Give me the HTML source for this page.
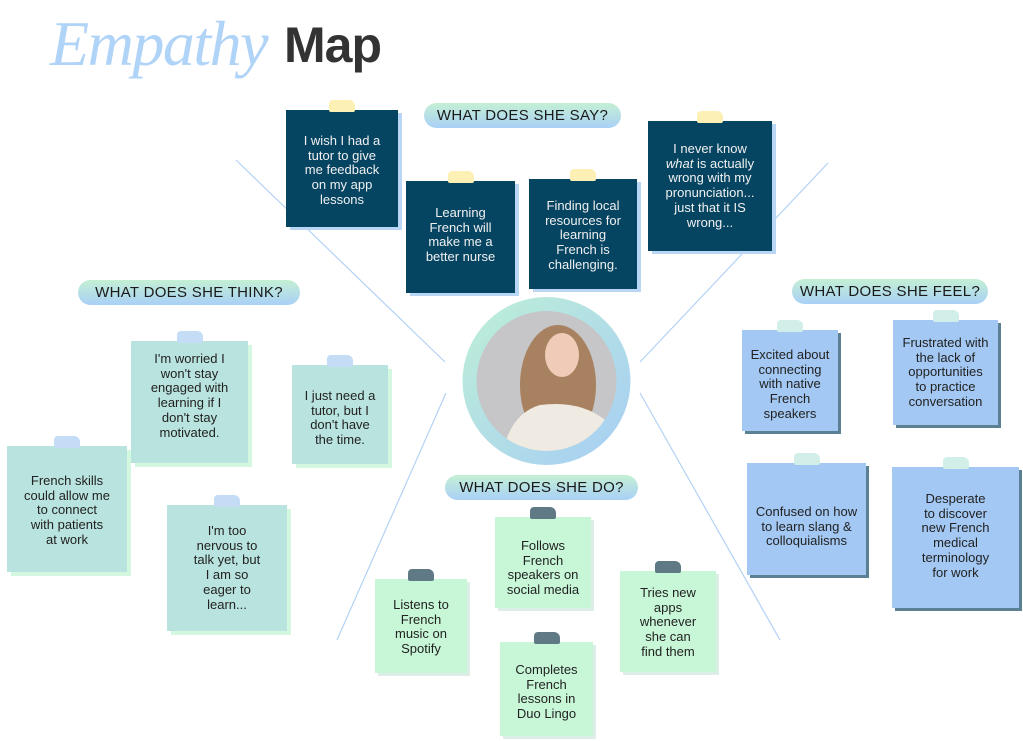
<!DOCTYPE html>
<html><head><meta charset="utf-8"><style>
*{margin:0;padding:0;box-sizing:border-box}
body{width:1023px;height:741px;background:#fff;position:relative;overflow:hidden;font-family:"Liberation Sans",sans-serif}
.t1{position:absolute;left:50px;top:7px;font-family:"Liberation Serif",serif;font-style:italic;font-size:64px;color:#b0d3f8;letter-spacing:-1.5px}
.t2{position:absolute;left:284px;top:16px;font-size:50px;font-weight:bold;color:#333;letter-spacing:-1px}
.lab{position:absolute;height:25px;border-radius:13px;background:linear-gradient(180deg,#c4f0d4,#a9d0f6);font-size:15px;color:#1a1a1a;text-align:center;line-height:25px;letter-spacing:0.3px}
.n{position:absolute;text-align:center;font-size:13px;line-height:14.7px;color:#222}
.d{background:#064562;color:#f0f0f0;box-shadow:4px 3px 0 #b9d6f4}
.th{background:#b9e3de;box-shadow:4px 4px 0 #d4f8df}
.f{background:#a3c8f3;box-shadow:3px 3px 0 #5b7f93}
.g{background:#c8f7d8;box-shadow:3px 3px 0 #dceee6}
.tape{position:absolute;top:-10px;left:50%;margin-left:-13px;width:26px;height:12px;border-radius:4px 6px 2px 2px}
.d .tape{background:#fdf0b4}
.th .tape{background:#c4dcf6}
.f .tape{background:#d2eee8}
.g .tape{background:#607a85}
</style></head><body>
<svg width="1023" height="741" style="position:absolute;left:0;top:0">
<g stroke="#b3d2f5" stroke-width="1.2">
<line x1="236" y1="160" x2="445" y2="362"/>
<line x1="828" y1="163" x2="640" y2="362"/>
<line x1="337" y1="640" x2="446" y2="393"/>
<line x1="780" y1="640" x2="640" y2="393"/>
</g>
<defs>
<linearGradient id="rg" x1="0" y1="0" x2="1" y2="1"><stop offset="0" stop-color="#bdf0d6"/><stop offset="1" stop-color="#a6cdf5"/></linearGradient>
<clipPath id="cp"><circle cx="546.5" cy="381" r="70"/></clipPath>
</defs>
<circle cx="546.5" cy="381" r="84" fill="url(#rg)"/>
<g clip-path="url(#cp)">
<rect x="470" y="305" width="160" height="160" fill="#c6c5c8"/>
<ellipse cx="558" cy="385" rx="38" ry="60" fill="#a88260"/>
<ellipse cx="562" cy="355" rx="17" ry="22" fill="#f0cbb7"/>
<path d="M500 470 Q505 415 540 405 Q580 400 605 420 Q615 440 615 470 Z" fill="#efeae2"/>
</g>
</svg>
<div class="t1">Empathy</div><div class="t2">Map</div>
<div class="lab" style="left:424px;top:103px;width:197px">WHAT DOES SHE SAY?</div>
<div class="lab" style="left:78px;top:280px;width:222px">WHAT DOES SHE THINK?</div>
<div class="lab" style="left:792px;top:279px;width:196px">WHAT DOES SHE FEEL?</div>
<div class="lab" style="left:445px;top:475px;width:193px">WHAT DOES SHE DO?</div>

<div class="n d" style="left:286px;top:110px;width:112px;height:117px;padding-top:24px"><div class="tape"></div>I wish I had a<br>tutor to give<br>me feedback<br>on my app<br>lessons</div>
<div class="n d" style="left:406px;top:181px;width:109px;height:112px;padding-top:25px"><div class="tape"></div>Learning<br>French will<br>make me a<br>better nurse</div>
<div class="n d" style="left:529px;top:179px;width:108px;height:110px;padding-top:20px"><div class="tape"></div>Finding local<br>resources for<br>learning<br>French is<br>challenging.</div>
<div class="n d" style="left:648px;top:121px;width:124px;height:130px;padding-top:21px"><div class="tape"></div>I never know<br><i>what</i> is actually<br>wrong with my<br>pronunciation...<br>just that it IS<br>wrong...</div>

<div class="n th" style="left:131px;top:341px;width:117px;height:122px;padding-top:11px"><div class="tape"></div>I'm worried I<br>won't stay<br>engaged with<br>learning if I<br>don't stay<br>motivated.</div>
<div class="n th" style="left:292px;top:365px;width:96px;height:99px;padding-top:24px"><div class="tape"></div>I just need a<br>tutor, but I<br>don't have<br>the time.</div>
<div class="n th" style="left:7px;top:446px;width:120px;height:126px;padding-top:28px"><div class="tape"></div>French skills<br>could allow me<br>to connect<br>with patients<br>at work</div>
<div class="n th" style="left:167px;top:505px;width:120px;height:126px;padding-top:19px"><div class="tape"></div>I'm too<br>nervous to<br>talk yet, but<br>I am so<br>eager to<br>learn...</div>

<div class="n f" style="left:742px;top:330px;width:96px;height:101px;padding-top:18px"><div class="tape"></div>Excited about<br>connecting<br>with native<br>French<br>speakers</div>
<div class="n f" style="left:893px;top:320px;width:105px;height:105px;padding-top:16px"><div class="tape"></div>Frustrated with<br>the lack of<br>opportunities<br>to practice<br>conversation</div>
<div class="n f" style="left:747px;top:463px;width:119px;height:112px;padding-top:42px"><div class="tape"></div>Confused on how<br>to learn slang &amp;<br>colloquialisms</div>
<div class="n f" style="left:892px;top:467px;width:127px;height:141px;padding-top:25px"><div class="tape"></div>Desperate<br>to discover<br>new French<br>medical<br>terminology<br>for work</div>

<div class="n g" style="left:495px;top:517px;width:96px;height:91px;padding-top:22px"><div class="tape"></div>Follows<br>French<br>speakers on<br>social media</div>
<div class="n g" style="left:375px;top:579px;width:92px;height:94px;padding-top:19px"><div class="tape"></div>Listens to<br>French<br>music on<br>Spotify</div>
<div class="n g" style="left:620px;top:571px;width:96px;height:101px;padding-top:15px"><div class="tape"></div>Tries new<br>apps<br>whenever<br>she can<br>find them</div>
<div class="n g" style="left:500px;top:642px;width:93px;height:94px;padding-top:21px"><div class="tape"></div>Completes<br>French<br>lessons in<br>Duo Lingo</div>
</body></html>
